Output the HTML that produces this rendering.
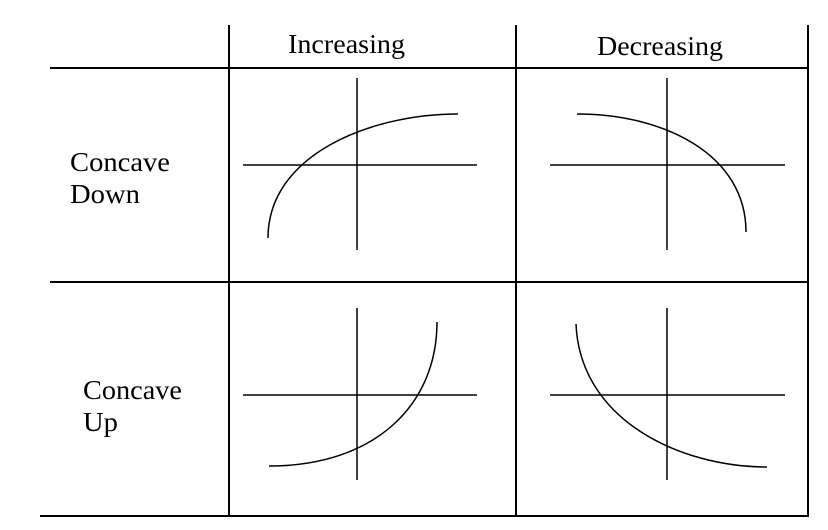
<!DOCTYPE html>
<html><head><style>
html,body{margin:0;padding:0;background:#fff;}
svg{display:block;}
text{font-family:"Liberation Serif",serif;fill:#000;}
</style></head><body>
<svg width="828" height="530" viewBox="0 0 828 530">
<g stroke="#000" stroke-width="2" fill="none">
<line x1="229" y1="25" x2="229" y2="517"/>
<line x1="516" y1="25" x2="516" y2="517"/>
<line x1="808" y1="25" x2="808" y2="517"/>
<line x1="50" y1="68" x2="809" y2="68"/>
<line x1="50" y1="282" x2="809" y2="282"/>
<line x1="40" y1="516" x2="809" y2="516"/>
</g>
<g stroke="#000" stroke-width="1.5" fill="none">
<line x1="357" y1="78" x2="357" y2="250"/>
<line x1="243" y1="165" x2="477" y2="165"/>
<line x1="667" y1="78" x2="667" y2="250"/>
<line x1="550" y1="165" x2="785" y2="165"/>
<line x1="357" y1="308" x2="357" y2="480"/>
<line x1="243" y1="395" x2="477" y2="395"/>
<line x1="667" y1="308" x2="667" y2="480"/>
<line x1="550" y1="395" x2="785" y2="395"/>
<path d="M268 238 C268 155 370 114 458 114"/>
<path d="M577 114 C665 114 746 155 746 232"/>
<path d="M269 466 C375 466 437 405 437 322"/>
<path d="M576 324 C580 420 680 467 767 467"/>
</g>
<g font-size="27">
<text x="288" y="53" textLength="117" lengthAdjust="spacingAndGlyphs">Increasing</text>
<text x="597" y="55" textLength="126" lengthAdjust="spacingAndGlyphs">Decreasing</text>
<text x="70" y="171" textLength="100" lengthAdjust="spacingAndGlyphs">Concave</text>
<text x="70" y="203" textLength="70" lengthAdjust="spacingAndGlyphs">Down</text>
<text x="83" y="399" textLength="99" lengthAdjust="spacingAndGlyphs">Concave</text>
<text x="83" y="431" textLength="35" lengthAdjust="spacingAndGlyphs">Up</text>
</g>
</svg>
</body></html>
